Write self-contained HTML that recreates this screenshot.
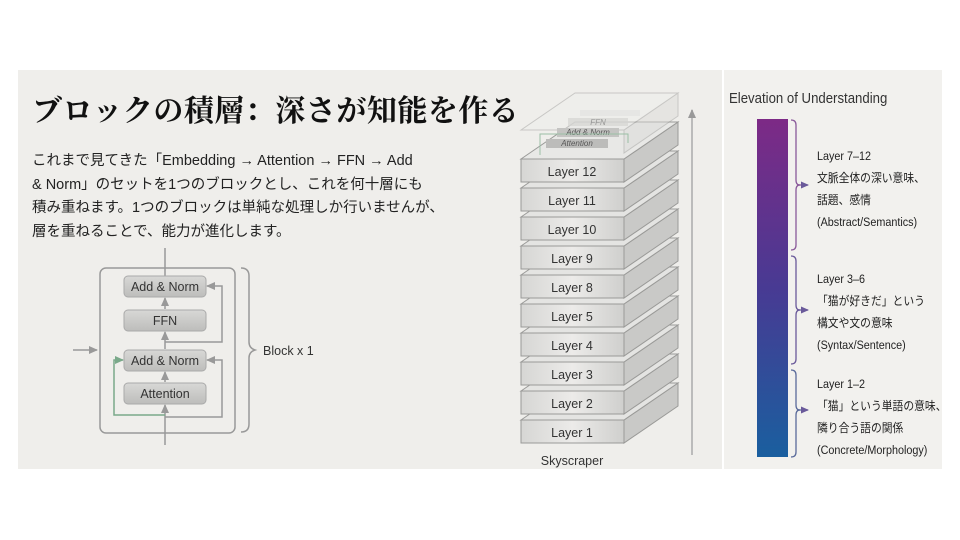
<!DOCTYPE html>
<html><head><meta charset="utf-8"><style>
html,body{margin:0;padding:0;background:#fff;}
body{width:960px;height:540px;position:relative;overflow:hidden;font-family:"Liberation Sans","Noto Sans CJK JP",sans-serif;}
.panel{position:absolute;left:18px;top:70px;width:704px;height:399px;background:#efeeeb;}
.rpanel{position:absolute;left:724px;top:70px;width:218px;height:399px;background:#f2f1ee;}
.title{position:absolute;left:32px;top:86px;font-family:"Liberation Serif","Noto Serif CJK SC",serif;font-weight:bold;font-size:30px;color:#111;letter-spacing:0.5px;}
.body{position:absolute;left:32px;top:150px;font-size:14.5px;line-height:23.5px;color:#222;}
</style></head><body>
<div class="panel"></div><div class="rpanel"></div>
<div class="title">ブロックの積層：深さが知能を作る</div>
<div class="body">これまで見てきた「Embedding → Attention → FFN → Add<br>&amp; Norm」のセットを1つのブロックとし、これを何十層にも<br>積み重ねます。1つのブロックは単純な処理しか行いませんが、<br>層を重ねることで、能力が進化します。</div>
<svg width="960" height="540" style="position:absolute;left:0;top:0" font-family="Liberation Sans, Noto Sans CJK JP, sans-serif">
<defs>
<linearGradient id="bx" x1="0" y1="0" x2="0" y2="1"><stop offset="0" stop-color="#d8d8d6"/><stop offset="1" stop-color="#bdbdbb"/></linearGradient>
<linearGradient id="fr" x1="0" y1="0" x2="1" y2="0"><stop offset="0" stop-color="#d6d6d4"/><stop offset="0.5" stop-color="#ecebe9"/><stop offset="1" stop-color="#cfcfcd"/></linearGradient>
<linearGradient id="bar" x1="0" y1="0" x2="0" y2="1"><stop offset="0" stop-color="#7d2a86"/><stop offset="0.5" stop-color="#483a93"/><stop offset="1" stop-color="#1a5f9f"/></linearGradient>
<marker id="ar" markerUnits="userSpaceOnUse" markerWidth="9" markerHeight="8" refX="8" refY="4" orient="auto"><path d="M0,0L9,4L0,8z" fill="#999"/></marker>
<marker id="ag" markerUnits="userSpaceOnUse" markerWidth="9" markerHeight="8" refX="8" refY="4" orient="auto"><path d="M0,0L9,4L0,8z" fill="#7aa98a"/></marker>
<marker id="ap" markerUnits="userSpaceOnUse" markerWidth="8" markerHeight="7" refX="7" refY="3.5" orient="auto"><path d="M0,0L8,3.5L0,7z" fill="#6a5a9a"/></marker>
</defs>
<g stroke="#999" stroke-width="1.5" fill="none">
<rect x="100" y="268" width="135" height="165" rx="6"/>
<line x1="165" y1="248" x2="165" y2="276"/>
<line x1="165" y1="445" x2="165" y2="405" marker-end="url(#ar)"/>
<line x1="165" y1="309" x2="165" y2="298" marker-end="url(#ar)"/>
<line x1="165" y1="349" x2="165" y2="332" marker-end="url(#ar)"/>
<line x1="165" y1="382" x2="165" y2="372" marker-end="url(#ar)"/>
<line x1="73" y1="350" x2="97" y2="350" marker-end="url(#ar)"/>
<polyline points="165,342 222,342 222,286 207,286" marker-end="url(#ar)"/>
<polyline points="165,417 222,417 222,360 207,360" marker-end="url(#ar)"/>
<path d="M241,268 q8,0 8,8 v66 q0,6 6,8 q-6,2 -6,8 v66 q0,8 -8,8"/>
</g>
<polyline points="165,415 114,415 114,360 123,360" stroke="#7aa98a" stroke-width="1.5" fill="none" marker-end="url(#ag)"/>
<g font-size="12.5" fill="#333" text-anchor="middle">
<rect x="124" y="276" width="82" height="21" rx="4" fill="url(#bx)" stroke="#aaa"/><text x="165" y="291">Add &amp; Norm</text>
<rect x="124" y="310" width="82" height="21" rx="4" fill="url(#bx)" stroke="#aaa"/><text x="165" y="325">FFN</text>
<rect x="124" y="350" width="82" height="21" rx="4" fill="url(#bx)" stroke="#aaa"/><text x="165" y="365">Add &amp; Norm</text>
<rect x="124" y="383" width="82" height="21" rx="4" fill="url(#bx)" stroke="#aaa"/><text x="165" y="398">Attention</text>
</g>
<text x="263" y="355" font-size="12.5" fill="#333">Block x 1</text>
<line x1="692" y1="455" x2="692" y2="110" stroke="#bbb" stroke-width="2" marker-end="url(#ar)"/>
<g font-size="12.5" fill="#333" text-anchor="middle" stroke="#9a9a98" stroke-width="1">
<g><polygon points="624,420 678,383 678,406 624,443" fill="#c9c9c7"/><polygon points="521,420 575,383 678,383 624,420" fill="#e4e4e2"/><rect x="521" y="420" width="103" height="23" fill="url(#fr)"/><text x="572" y="437" stroke="none">Layer 1</text></g>
<g transform="translate(0,-29)"><polygon points="624,420 678,383 678,406 624,443" fill="#c9c9c7"/><polygon points="521,420 575,383 678,383 624,420" fill="#e4e4e2"/><rect x="521" y="420" width="103" height="23" fill="url(#fr)"/><text x="572" y="437" stroke="none">Layer 2</text></g>
<g transform="translate(0,-58)"><polygon points="624,420 678,383 678,406 624,443" fill="#c9c9c7"/><polygon points="521,420 575,383 678,383 624,420" fill="#e4e4e2"/><rect x="521" y="420" width="103" height="23" fill="url(#fr)"/><text x="572" y="437" stroke="none">Layer 3</text></g>
<g transform="translate(0,-87)"><polygon points="624,420 678,383 678,406 624,443" fill="#c9c9c7"/><polygon points="521,420 575,383 678,383 624,420" fill="#e4e4e2"/><rect x="521" y="420" width="103" height="23" fill="url(#fr)"/><text x="572" y="437" stroke="none">Layer 4</text></g>
<g transform="translate(0,-116)"><polygon points="624,420 678,383 678,406 624,443" fill="#c9c9c7"/><polygon points="521,420 575,383 678,383 624,420" fill="#e4e4e2"/><rect x="521" y="420" width="103" height="23" fill="url(#fr)"/><text x="572" y="437" stroke="none">Layer 5</text></g>
<g transform="translate(0,-145)"><polygon points="624,420 678,383 678,406 624,443" fill="#c9c9c7"/><polygon points="521,420 575,383 678,383 624,420" fill="#e4e4e2"/><rect x="521" y="420" width="103" height="23" fill="url(#fr)"/><text x="572" y="437" stroke="none">Layer 8</text></g>
<g transform="translate(0,-174)"><polygon points="624,420 678,383 678,406 624,443" fill="#c9c9c7"/><polygon points="521,420 575,383 678,383 624,420" fill="#e4e4e2"/><rect x="521" y="420" width="103" height="23" fill="url(#fr)"/><text x="572" y="437" stroke="none">Layer 9</text></g>
<g transform="translate(0,-203)"><polygon points="624,420 678,383 678,406 624,443" fill="#c9c9c7"/><polygon points="521,420 575,383 678,383 624,420" fill="#e4e4e2"/><rect x="521" y="420" width="103" height="23" fill="url(#fr)"/><text x="572" y="437" stroke="none">Layer 10</text></g>
<g transform="translate(0,-232)"><polygon points="624,420 678,383 678,406 624,443" fill="#c9c9c7"/><polygon points="521,420 575,383 678,383 624,420" fill="#e4e4e2"/><rect x="521" y="420" width="103" height="23" fill="url(#fr)"/><text x="572" y="437" stroke="none">Layer 11</text></g>
<g transform="translate(0,-261)"><polygon points="624,420 678,383 678,406 624,443" fill="#c9c9c7"/><polygon points="521,420 575,383 678,383 624,420" fill="#e8e8e6"/><rect x="521" y="420" width="103" height="23" fill="url(#fr)"/><text x="572" y="437" stroke="none">Layer 12</text></g>
<g transform="translate(0,-290)" opacity="0.45"><polygon points="624,420 678,383 678,406 624,443" fill="#d9d9d7"/><polygon points="521,420 575,383 678,383 624,420" fill="#eeeeec"/></g>
</g>
<g font-size="8" fill="#555" text-anchor="middle" font-style="italic">
<rect x="546" y="139" width="62" height="9" fill="#bcbcba"/><text x="577" y="146">Attention</text>
<rect x="557" y="128" width="62" height="9" fill="#c4c4c2"/><text x="588" y="135">Add &amp; Norm</text>
<rect x="568" y="118" width="60" height="8" fill="#d4d4d2" opacity="0.7"/><text x="598" y="125" opacity="0.5">FFN</text>
<rect x="580" y="110" width="60" height="6" fill="#ddd" opacity="0.5"/>
</g>
<polyline points="540,155 540,134 628,134 628,143" stroke="#9bbfa6" fill="none"/>
<text x="572" y="465" font-size="12.5" fill="#333" text-anchor="middle">Skyscraper</text>
<text transform="translate(729,103) scale(0.88,1)" font-size="15" fill="#333">Elevation of Understanding</text>
<rect x="757" y="119" width="31" height="338" fill="url(#bar)"/>
<g fill="none" stroke-width="1.3">
<path d="M791,120 q5,0 5,5 v55 q0,5 4,5 q-4,0 -4,5 v55 q0,5 -5,5" stroke="#8a5a9a"/>
<path d="M791,256 q5,0 5,5 v44 q0,5 4,5 q-4,0 -4,5 v44 q0,5 -5,5" stroke="#6a5a9a"/>
<path d="M791,370 q5,0 5,5 v30 q0,5 4,5 q-4,0 -4,5 v37 q0,5 -5,5" stroke="#5a6a9a"/>
<line x1="797" y1="185" x2="808" y2="185" stroke="#8a5a9a" marker-end="url(#ap)"/>
<line x1="797" y1="310" x2="808" y2="310" stroke="#6a5a9a" marker-end="url(#ap)"/>
<line x1="797" y1="410" x2="808" y2="410" stroke="#5a6a9a" marker-end="url(#ap)"/>
</g>
<g font-size="12" fill="#222" transform="translate(817,0) scale(0.9,1)">
<text x="0" y="160">Layer 7–12</text>
<text x="0" y="182">文脈全体の深い意味、</text>
<text x="0" y="204">話題、感情</text>
<text x="0" y="226">(Abstract/Semantics)</text>
<text x="0" y="283">Layer 3–6</text>
<text x="0" y="305">「猫が好きだ」という</text>
<text x="0" y="327">構文や文の意味</text>
<text x="0" y="349">(Syntax/Sentence)</text>
<text x="0" y="388">Layer 1–2</text>
<text x="0" y="410">「猫」という単語の意味、</text>
<text x="0" y="432">隣り合う語の関係</text>
<text x="0" y="454">(Concrete/Morphology)</text>
</g>
</svg>
</body></html>
